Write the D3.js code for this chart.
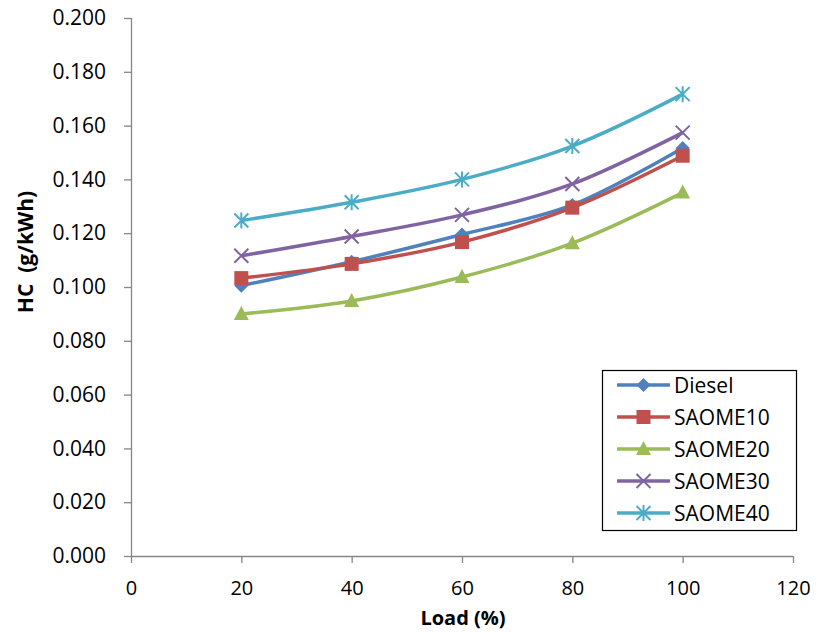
<!DOCTYPE html>
<html><head><meta charset="utf-8">
<script src="https://cdn.jsdelivr.net/npm/d3@7"></script>
<style>body{margin:0;background:#fff}svg{display:block}</style>
</head><body>
<svg id="c" width="822" height="632"></svg>
<script>
const loads = [20, 40, 60, 80, 100];
const seriesNames = ["Diesel", "SAOME10", "SAOME20", "SAOME30", "SAOME40"];
const diesel  = [0.1005, 0.1094, 0.1195, 0.1305, 0.1517];
const saome10 = [0.1033, 0.1086, 0.1167, 0.1295, 0.1488];
const saome20 = [0.0900, 0.0948, 0.1037, 0.1163, 0.1351];
const saome30 = [0.1116, 0.1188, 0.1268, 0.1383, 0.1574];
const saome40 = [0.1247, 0.1315, 0.1400, 0.1524, 0.1717];
const xTicks = [0, 20, 40, 60, 80, 100, 120];
const yTicks = [0, 0.02, 0.04, 0.06, 0.08, 0.10, 0.12, 0.14, 0.16, 0.18, 0.20];
const colors = ["#4F81BD", "#C0504D", "#9BBB59", "#8064A2", "#4BACC6"];
const shapes = ["diamond", "square", "triangle", "x", "star"];
const values = [diesel, saome10, saome20, saome30, saome40];

const svg = d3.select("#c");
const font = "'Open Sans', 'Noto Sans', sans-serif";
const x = d3.scaleLinear().domain([0, 120]).range([131, 793]);
const y = d3.scaleLinear().domain([0, 0.2]).range([556, 18]);
const axisColor = "#868686";

// y axis
const ya = svg.append("g").attr("transform", "translate(131,0)")
  .call(d3.axisLeft(y).tickValues(yTicks).tickFormat(d3.format(".3f")).tickSize(7).tickPadding(18));
// x axis
const xa = svg.append("g").attr("transform", "translate(0,556)")
  .call(d3.axisBottom(x).tickValues(xTicks).tickFormat(d3.format("d")).tickSize(7).tickPadding(18));
[ya, xa].forEach(g => {
  g.select(".domain").attr("stroke", axisColor).attr("stroke-width", 1.3);
  g.selectAll(".tick line").attr("stroke", axisColor).attr("stroke-width", 1.3);
  g.selectAll(".tick text").attr("fill", "#000").style("font-family", font).style("font-size", "21px");
});
xa.selectAll(".tick text").style("font-size", "20px");
ya.select(".domain").attr("d", "M0.5,18V556.5");
xa.select(".domain").attr("d", "M131,0.5H793");

// titles
svg.append("text").attr("x", 463).attr("y", 625).attr("text-anchor", "middle")
  .style("font-family", font).style("font-size", "20px").style("font-weight", "bold").text("Load (%)");
svg.append("text").attr("transform", "translate(33,252) rotate(-90)").attr("text-anchor", "middle")
  .style("font-family", font).style("font-size", "21px").style("font-weight", "bold")
  .style("white-space", "pre").text("HC  (g/kWh)");

const line = d3.line().x(d => x(d[0])).y(d => y(d[1])).curve(d3.curveCatmullRom.alpha(0.5));

function marker(g, shape, color) {
  if (shape === "diamond") g.append("path").attr("d", "M0,-7L7,0L0,7L-7,0Z").attr("fill", color);
  else if (shape === "square") g.append("rect").attr("x", -7).attr("y", -7).attr("width", 14).attr("height", 14).attr("fill", color);
  else if (shape === "triangle") g.append("path").attr("d", "M0,-8L7.5,6L-7.5,6Z").attr("fill", color);
  else if (shape === "x") g.append("path").attr("d", "M-7,-7L7,7M-7,7L7,-7").attr("stroke", color).attr("stroke-width", 2);
  else if (shape === "star") g.append("path").attr("d", "M-7,-7L7,7M-7,7L7,-7M0,-8V8").attr("stroke", color).attr("stroke-width", 2);
}

values.forEach((vals, i) => {
  const pts = loads.map((l, j) => [l, vals[j]]);
  svg.append("path").attr("d", line(pts)).attr("fill", "none").attr("stroke", colors[i]).attr("stroke-width", 3.5);
  pts.forEach(p => {
    const g = svg.append("g").attr("transform", `translate(${x(p[0])},${y(p[1])})`);
    marker(g, shapes[i], colors[i]);
  });
});

// legend
const lg = svg.append("g");
lg.append("rect").attr("x", 602.5).attr("y", 370.5).attr("width", 194).attr("height", 160)
  .attr("fill", "#fff").attr("stroke", "#000").attr("stroke-width", 1.2);
seriesNames.forEach((n, i) => {
  const yy = 385 + i * 32;
  lg.append("line").attr("x1", 617).attr("x2", 670).attr("y1", yy).attr("y2", yy)
    .attr("stroke", colors[i]).attr("stroke-width", 3.5);
  marker(lg.append("g").attr("transform", `translate(643.5,${yy})`), shapes[i], colors[i]);
  lg.append("text").attr("x", 674).attr("y", yy + 8).style("font-family", font).style("font-size", "21px").text(n);
});
</script>
</body></html>
